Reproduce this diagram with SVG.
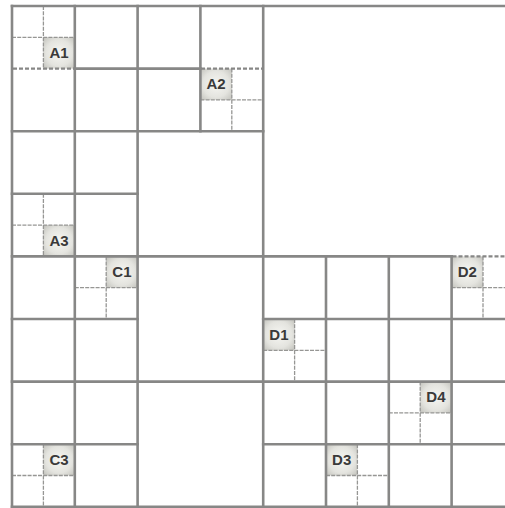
<svg xmlns="http://www.w3.org/2000/svg" width="505" height="508" viewBox="0 0 505 508">
<style>
.b{stroke:#878786;stroke-width:2.6;fill:none;stroke-linecap:square}
.bd{stroke:#878786;stroke-width:2.4;fill:none;stroke-dasharray:4 2}
.t{stroke:#969694;stroke-width:1.3;fill:none;stroke-dasharray:4 1.2}
.lab{fill:url(#g)}
.txt{font-family:"Liberation Sans",Arial,sans-serif;font-size:15px;font-weight:bold;fill:#3a3a3a;text-anchor:middle}
</style>
<defs>
<radialGradient id="g" cx="0.5" cy="0.5" r="0.7">
<stop offset="0" stop-color="#f6f6f2"/>
<stop offset="0.6" stop-color="#e4e4df"/>
<stop offset="1" stop-color="#c2c2bc"/>
</radialGradient>
</defs>
<rect width="505" height="508" fill="#ffffff"/>
<g id="A1"><rect class="lab" x="43.4" y="37.3" width="31.4" height="31.3"/><text class="txt" x="59.1" y="58">A1</text></g>
<g id="A2"><rect class="lab" x="200.4" y="68.6" width="31.4" height="31.3"/><text class="txt" x="216.1" y="89.3">A2</text></g>
<g id="A3"><rect class="lab" x="43.4" y="225.1" width="31.4" height="31.3"/><text class="txt" x="59.1" y="245.8">A3</text></g>
<g id="C1"><rect class="lab" x="106.2" y="256.4" width="31.4" height="31.3"/><text class="txt" x="121.9" y="277.1">C1</text></g>
<g id="C3"><rect class="lab" x="43.4" y="444.2" width="31.4" height="31.3"/><text class="txt" x="59.1" y="464.9">C3</text></g>
<g id="D1"><rect class="lab" x="263.2" y="319" width="31.4" height="31.3"/><text class="txt" x="278.9" y="339.7">D1</text></g>
<g id="D2"><rect class="lab" x="451.6" y="256.4" width="31.4" height="31.3"/><text class="txt" x="467.3" y="277.1">D2</text></g>
<g id="D3"><rect class="lab" x="326" y="444.2" width="31.4" height="31.3"/><text class="txt" x="341.7" y="464.9">D3</text></g>
<g id="D4"><rect class="lab" x="420.2" y="381.6" width="31.4" height="31.3"/><text class="txt" x="435.9" y="402.3">D4</text></g>
<g id="connectors">
<g id="sublines">
<path class="t" d="M43.4 6V68.6M12 37.3H74.8"/>
<path class="t" d="M231.8 68.6V131.2M200.4 99.9H263.2"/>
<path class="t" d="M43.4 193.8V256.4M12 225.1H74.8"/>
<path class="t" d="M106.2 256.4V319M74.8 287.7H137.6"/>
<path class="t" d="M43.4 444.2V506.8M12 475.5H74.8"/>
<path class="t" d="M294.6 319V381.6M263.2 350.3H326"/>
<path class="t" d="M483 256.4V319M451.6 287.7H514"/>
<path class="t" d="M357.4 444.2V506.8M326 475.5H388.8"/>
<path class="t" d="M420.2 381.6V444.2M388.8 412.9H451.6"/>
</g>
<g id="grid">
<path class="b" d="M12 6H510M74.8 68.6H200.4M12 131.2H263.2M12 193.8H137.6M12 256.4H451.6M12 319H137.6M263.2 319H510M12 381.6H510M12 444.2H137.6M263.2 444.2H510M12 506.8H510"/>
<path class="b" d="M12 6V506.8M74.8 6V506.8M137.6 6V506.8M200.4 6V131.2M263.2 6V506.8M326 256.4V506.8M388.8 256.4V506.8M451.6 256.4V506.8"/>
<path class="bd" d="M13 68.6H74M201 68.6H263M452.5 256.4H510"/>
</g>
</g>
</svg>
